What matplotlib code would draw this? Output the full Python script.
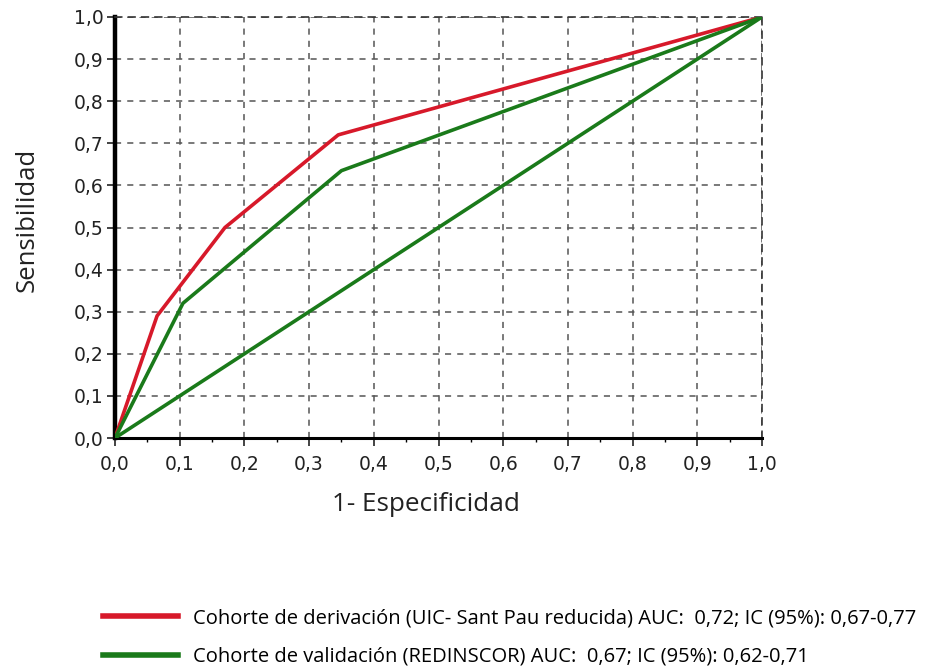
import matplotlib
matplotlib.use("Agg")
import matplotlib.pyplot as plt
from matplotlib.ticker import MultipleLocator, FuncFormatter
from matplotlib.lines import Line2D

# Data
deriv_x = [0.0, 0.065, 0.17, 0.345, 1.0]
deriv_y = [0.0, 0.29, 0.50, 0.72, 1.0]
valid_x = [0.0, 0.105, 0.35, 1.0]
valid_y = [0.0, 0.32, 0.635, 1.0]
ref_x = [0.0, 1.0]
ref_y = [0.0, 1.0]
ticks = [0.0, 0.1, 0.2, 0.3, 0.4, 0.5, 0.6, 0.7, 0.8, 0.9, 1.0]
labels = ["Cohorte de derivación (UIC- Sant Pau reducida) AUC:  0,72; IC (95%): 0,67-0,77",
          "Cohorte de validación (REDINSCOR) AUC:  0,67; IC (95%): 0,62-0,71"]

red = "#d7192a"
green = "#1a7a1a"

fig = plt.figure(figsize=(9.32, 6.67), dpi=100)
ax = fig.add_axes([115/932, 1-438/667, (762-115)/932, (438-17)/667])

ax.plot(deriv_x, deriv_y, color=red, lw=2.6, zorder=3)
ax.plot(valid_x, valid_y, color=green, lw=2.6, zorder=3)
ax.plot(ref_x, ref_y, color=green, lw=2.6, zorder=3)

ax.set_xlim(0, 1)
ax.set_ylim(0, 1)
ax.set_xticks(ticks)
ax.set_yticks(ticks)
ax.xaxis.set_minor_locator(MultipleLocator(0.05))
fmt = FuncFormatter(lambda v, p: f"{v:.1f}".replace(".", ","))
ax.xaxis.set_major_formatter(fmt)
ax.yaxis.set_major_formatter(fmt)
ax.grid(True, which="major", color="#555555", linestyle=(0, (4, 4)), lw=1.1)
ax.set_axisbelow(True)

ax.spines["left"].set_linewidth(3.2)
ax.spines["bottom"].set_linewidth(2.2)
for s in ["top", "right"]:
    ax.spines[s].set_linestyle((0, (4, 4)))
    ax.spines[s].set_color("#333333")
    ax.spines[s].set_linewidth(1.2)

ax.tick_params(axis="both", which="major", direction="out", length=6, width=1.2,
               labelsize=13.5, colors="#222222", labelfontfamily="DejaVu Sans")
ax.tick_params(axis="x", which="major", pad=6)
ax.tick_params(axis="y", which="major", pad=2)
ax.tick_params(axis="x", which="minor", direction="out", length=3, width=1.0)

ax.set_xlabel("1- Especificidad", fontsize=18.8, family="Open Sans", color="#222222")
ax.set_ylabel("Sensibilidad", fontsize=18.5, family="Open Sans", color="#222222")
ax.xaxis.set_label_coords((425.5 - 115) / 647, (438 - 492) / 421)
ax.yaxis.set_label_coords((40 - 115) / 647, (438 - 220) / 421)

handles = [Line2D([], [], color=red, lw=4), Line2D([], [], color=green, lw=4)]
fig.legend(handles, labels, loc="upper left", bbox_to_anchor=(95/932, 1-600/667),
           frameon=False, handlelength=3.7, handletextpad=0.75, labelspacing=0.92,
           borderaxespad=0, prop={"family": "Open Sans", "size": 14.5})

fig.savefig("out.png", dpi=100, facecolor="white")
